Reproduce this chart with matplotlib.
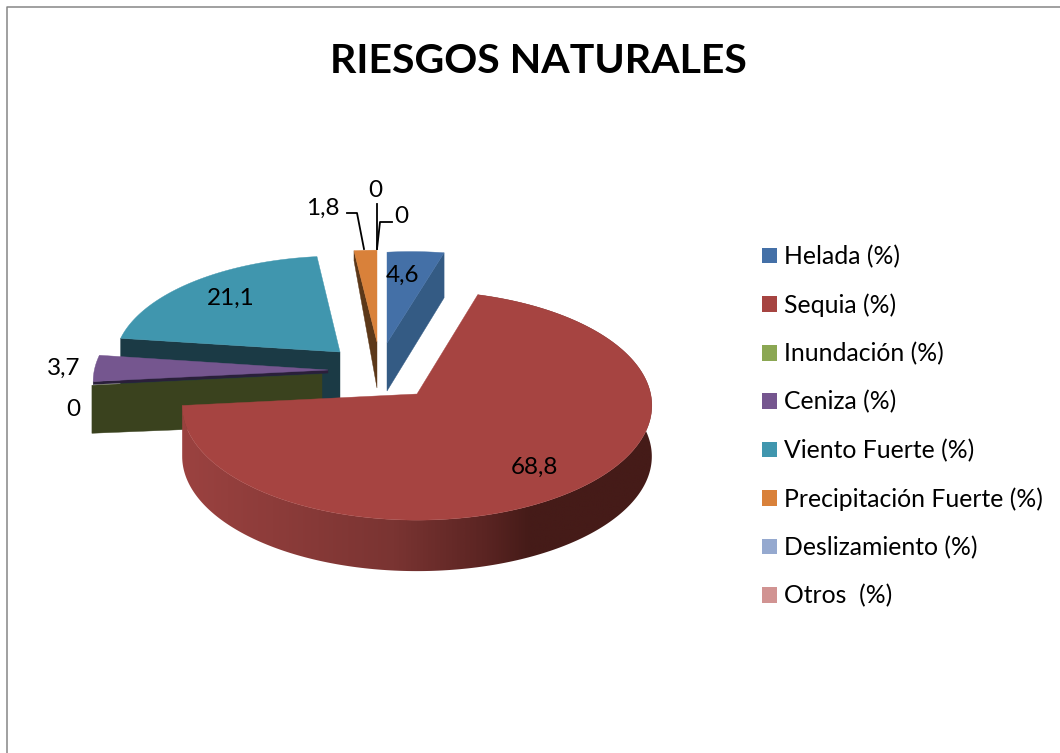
import numpy as np
import matplotlib.pyplot as plt
from matplotlib.colors import LinearSegmentedColormap
from matplotlib.patches import Patch, Polygon

# datos
categorias = ["Helada (%)", "Sequia (%)", "Inundación (%)", "Ceniza (%)",
              "Viento Fuerte (%)", "Precipitación Fuerte (%)",
              "Deslizamiento (%)", "Otros  (%)"]
valores = [4.6, 68.8, 0, 3.7, 21.1, 1.8, 0, 0]
etiquetas = ["4,6", "68,8", "0", "3,7", "21,1", "1,8", "0", "0"]

colores = ["#4470a7", "#a64441", "#8ba753", "#75568f",
           "#4096ae", "#d9813a", "#95a9cf", "#d19392"]
paredes = ["#345b84", "#451b18", "#3a421e", "#2a1f3a",
           "#1b3a45", "#5c3819", None, None]

# vertice de cada porcion (explode), escala radial x/y y profundidad
vertice = [(387, 343), (417, 394), (322, 374), (328, 370), (340, 352), (377, 342)]
escala_x = [0.93, 0.99, 0.97, 0.99, 0.95, 0.95]
escala_y = [0.88, 1.0, 0.98, 1.0, 0.93, 0.89]
inclina = [0.05, 0, 0, 0, 0, 0]
RX, RY, K = 236, 113.5, 0.1

pos_etiquetas = [(402, 275), (534, 467), (73, 409), (64, 368),
                 (231, 298), (323, 208), (375, 190), (401, 216)]

# angulos acumulados, en sentido horario desde arriba
acum = np.cumsum([0] + valores) / sum(valores) * 2 * np.pi


def punto(t, i):
    X, Y = np.sin(t), np.cos(t)
    s = 1 / (1 + K * Y)
    dx = RX * X * s * escala_x[i]
    dy = RY * Y * s * escala_y[i]
    ax0, ay0 = vertice[i]
    return ax0 + dx, ay0 - dy - inclina[i] * dx


def cara(i):
    t = np.linspace(acum[i], acum[i + 1], max(2, int(valores[i] * 6)))
    xs, ys = punto(t, i)
    return np.r_[vertice[i][0], xs], np.r_[vertice[i][1], ys]


def pared(i, t, prof_vert, prof_borde):
    ax0, ay0 = vertice[i]
    x, y = punto(t, i)
    ax.fill([ax0, x, x, ax0], [ay0, y, y + prof_borde, ay0 + prof_vert],
            color=paredes[i], lw=0.3, zorder=orden[i])


plt.rcParams["font.family"] = "Lato"
fig = plt.figure(figsize=(10.6, 7.53), dpi=100)
ax = fig.add_axes([0, 0, 1, 1])

orden = [6, 8, 4, 3, 2, 5]

# marco
ax.plot([7, 7, 1062], [760, 7, 7], color="#868686", lw=1.1, zorder=1)

# paredes internas
pared(4, acum[4], 50, 50)
pared(3, acum[3], 3, 3)
pared(2, acum[3], 50, 48)
pared(5, acum[5], 46, 10)
pared(0, acum[1], 48, 45)

# pared exterior de la sequia con degradado
cmap = LinearSegmentedColormap.from_list("pared", [
    (0, "#9b4240"), (0.45, "#7a3432"), (0.65, "#5a2422"), (0.74, "#451b18"), (1, "#451b18")])
ts = np.linspace(acum[1], acum[2], 260)
xs, ys = punto(ts, 1)
contorno = Polygon(np.r_[np.c_[xs, ys], np.c_[xs, ys + 51][::-1]],
                   closed=True, transform=ax.transData, facecolor="none", edgecolor="none")
ax.add_patch(contorno)
im = ax.imshow(np.linspace(0, 1, 400)[None, :], cmap=cmap, aspect="auto",
               extent=(xs.min(), xs.max(), 580, 280), zorder=orden[1], interpolation="bilinear")
im.set_clip_path(contorno)

ax.set_xlim(0, 1060)
ax.set_ylim(753, 0)
ax.axis("off")

# caras superiores
for i in [4, 3, 5, 0, 1]:
    x, y = cara(i)
    ax.fill(x, y, color=colores[i], lw=0.3, zorder=orden[i] + 0.5)

# etiquetas de datos
for et, (x, y) in zip(etiquetas, pos_etiquetas):
    ax.text(x, y, et, fontsize=17.5, ha="center", va="center", color="black", zorder=20)

# lineas guia
ax.plot([347, 357, 364], [213, 213, 249], color="black", lw=1.3, zorder=20)
ax.plot([377, 377], [204, 249], color="black", lw=1.3, zorder=20)
ax.plot([392, 380, 377], [222, 222, 249], color="black", lw=1.3, zorder=20)

ax.text(538, 61, "RIESGOS NATURALES", fontsize=29.5, fontweight="bold",
        ha="center", va="center", color="black")

manejadores = [Patch(facecolor=c, edgecolor="none", label=n) for c, n in zip(colores, categorias)]
ax.legend(handles=manejadores, loc="upper left", bbox_to_anchor=(762, 245),
          bbox_transform=ax.transData, frameon=False, fontsize=17.8,
          handlelength=0.6, handleheight=0.6, handletextpad=0.28,
          labelspacing=1.015, borderpad=0, borderaxespad=0)

plt.savefig("out.png", dpi=100)
